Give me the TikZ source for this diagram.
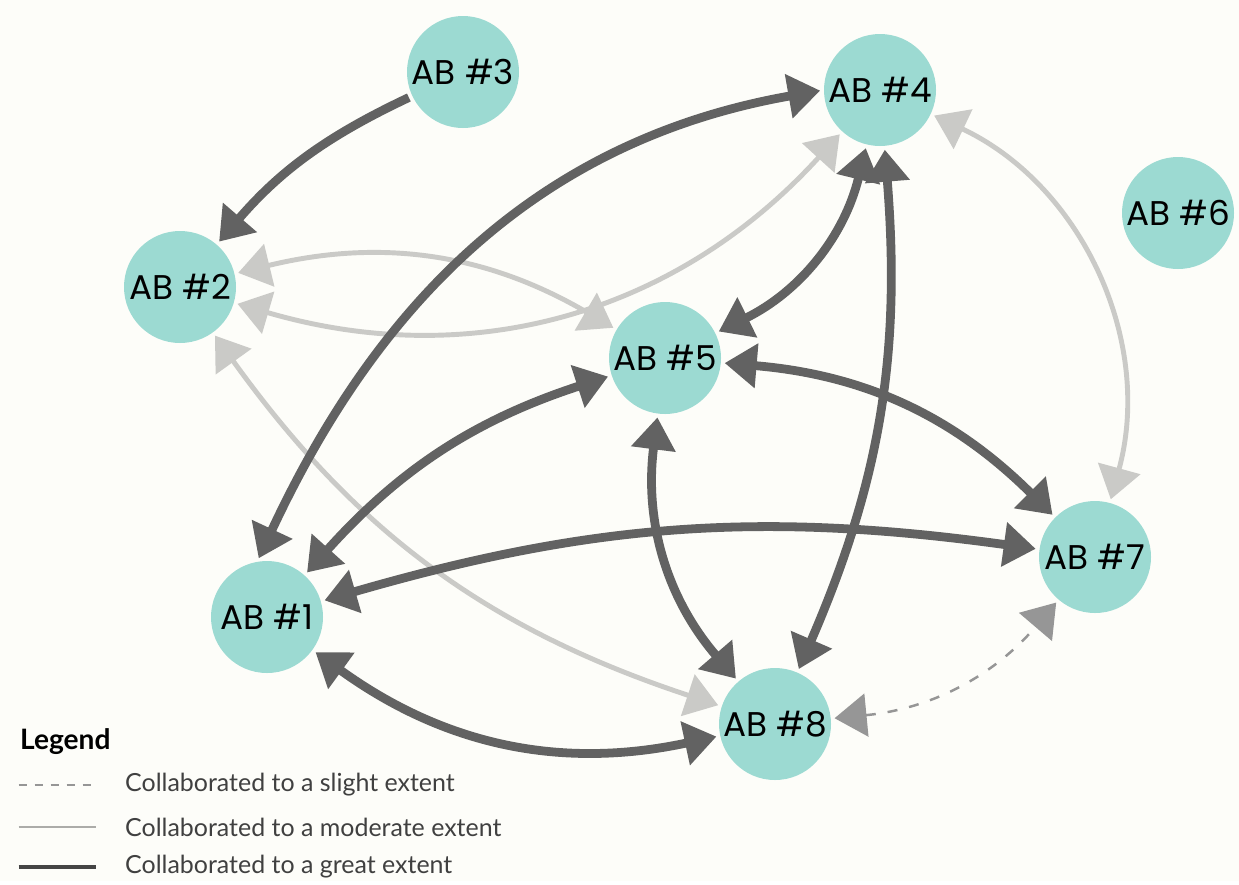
\documentclass[tikz,border=0pt]{standalone}
\usepackage{fontspec}
\setmainfont{Lato}
\newfontfamily\abfont{Poppins}
\usetikzlibrary{arrows.meta}
\definecolor{abfill}{RGB}{156,218,210}
\definecolor{greatgray}{RGB}{98,98,98}
\definecolor{modgray}{RGB}{202,202,199}
\definecolor{slightgray}{RGB}{150,150,150}
\definecolor{paper}{RGB}{253,253,249}
\begin{document}
\begin{tikzpicture}[shorten >=2pt, shorten <=2pt, >={Triangle[length=.64cm,width=.86cm]},
main node/.style={circle,fill=abfill,minimum size=2.24cm,inner sep=0pt,font=\abfont\fontsize{19.5}{22}\selectfont,text=black},
great/.style={draw=greatgray,line width=5pt,<->},
moderate/.style={draw=modgray,line width=2.8pt,<->},
slight/.style={draw=slightgray,line width=1.4pt,dash pattern=on .2cm off .24cm,<->},
key text/.style={anchor=west,font=\fontsize{14.2}{17}\selectfont,text=black!75}]
\fill[paper] (0,0) rectangle (24.78,-17.62);
\begin{scope}[every node/.style={main node}]
\node (ab3) at (9.26,-1.44) {AB \#3};
\node (ab4) at (17.60,-1.80) {AB \#4};
\node (ab6) at (23.56,-4.26) {AB \#6};
\node (ab2) at (3.60,-5.74) {AB \#2};
\node (ab5) at (13.30,-7.16) {AB \#5};
\node (ab7) at (21.90,-11.14) {AB \#7};
\node (ab1) at (5.34,-12.34) {AB \#1};
\node (ab8) at (15.50,-14.48) {AB \#8};
\end{scope}
% moderate ones first, great ones on top
\begin{scope}[every edge/.style={moderate}]
\draw (ab2) edge[bend left=22] (ab5);
\draw (ab2) edge[bend right=32] (ab4);
\draw (ab2) edge[bend right=18] (ab8);
\draw (ab4) edge[bend left=40] (ab7);
\end{scope}
\draw (ab8) edge[slight,bend right=22] (ab7);
\begin{scope}[every edge/.style={great}]
\draw (ab3) edge[->,bend right=12] (ab2);
\draw (ab1.100) edge[out=65,in=190] (ab4.west);
\draw (ab4) edge[bend left=25] (ab5);
\draw (ab4) edge[bend left=14] (ab8);
\draw (ab5) edge[bend right=15] (ab1);
\draw (ab5) edge[bend left=20] (ab7);
\draw (ab5) edge[bend right=24] (ab8);
\draw (ab1) edge[bend left=12] (ab7);
\draw (ab1) edge[bend right=24] (ab8);
\end{scope}
% legend
\node[anchor=west,font=\bfseries\fontsize{16}{19}\selectfont] (legend) at (0.28,-14.84) {Legend};
\coordinate (k1a) at (0.30,-15.70); \coordinate (k1b) at (1.90,-15.70);
\coordinate (k2a) at (0.30,-16.54); \coordinate (k2b) at (2.00,-16.54);
\coordinate (k3a) at (0.30,-17.34); \coordinate (k3b) at (2.00,-17.34);
\draw[slightgray,line width=1.3pt,dash pattern=on .16cm off .16cm] (k1a) -- (k1b);
\draw[modgray!85!black,line width=1.3pt] (k2a) -- (k2b);
\draw[greatgray!70!black,line width=1.8pt] (k3a) -- (k3b);
\node[key text] (key1) at (2.38,-15.70) {Collaborated to a slight extent};
\node[key text] (key2) at (2.38,-16.54) {Collaborated to a moderate extent};
\node[key text] (key3) at (2.38,-17.34) {Collaborated to a great extent};
\end{tikzpicture}
\end{document}
